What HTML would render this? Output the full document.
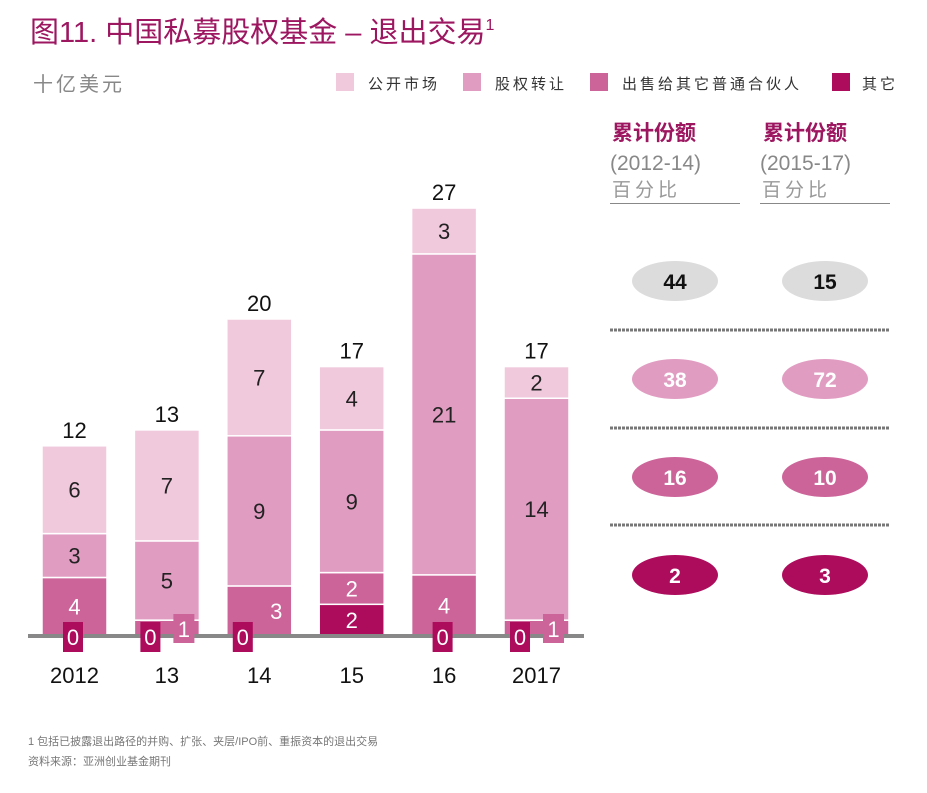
<!DOCTYPE html>
<html><head><meta charset="utf-8">
<style>
body{margin:0;background:#fff;}
svg text{font-family:"Liberation Sans","Noto Sans CJK SC",sans-serif;}
</style></head>
<body>
<svg id="chart" width="927" height="788" viewBox="0 0 927 788" xmlns="http://www.w3.org/2000/svg">
<text x="30" y="42" font-size="29" fill="#9c1660" font-family="Liberation Sans,Noto Sans CJK SC,sans-serif">图11. 中国私募股权基金 – 退出交易<tspan font-size="16" dy="-12">1</tspan></text>
<text x="33" y="91" font-size="20" fill="#888" font-family="Noto Serif CJK SC,serif" letter-spacing="3">十亿美元</text>
<g font-size="15" fill="#333">
<rect x="336" y="73" width="18" height="18" fill="#f0c9dd"/><text x="368" y="89" letter-spacing="3">公开市场</text>
<rect x="463" y="73" width="18" height="18" fill="#e19cc2"/><text x="495" y="89" letter-spacing="3">股权转让</text>
<rect x="590" y="73" width="18" height="18" fill="#cc6499"/><text x="622" y="89" letter-spacing="3">出售给其它普通合伙人</text>
<rect x="832" y="73" width="18" height="18" fill="#ad0b5c"/><text x="862" y="89" letter-spacing="3">其它</text>
</g>
<g id="bars"></g>
<rect x="28" y="634" width="556" height="4" fill="#888"/>
<g id="labels"></g>
<g>
<text x="612" y="140" font-size="21" font-weight="bold" fill="#9c1660" font-family="Noto Serif CJK SC,serif">累计份额</text>
<text x="610" y="170" font-size="21" fill="#888">(2012-14)</text>
<text x="612" y="196" font-size="19" fill="#999" font-family="Noto Serif CJK SC,serif" letter-spacing="4">百分比</text>
<rect x="610" y="203" width="130" height="1" fill="#888"/>
<text x="763" y="140" font-size="21" font-weight="bold" fill="#9c1660" font-family="Noto Serif CJK SC,serif">累计份额</text>
<text x="760" y="170" font-size="21" fill="#888">(2015-17)</text>
<text x="762" y="196" font-size="19" fill="#999" font-family="Noto Serif CJK SC,serif" letter-spacing="4">百分比</text>
<rect x="760" y="203" width="130" height="1" fill="#888"/>
<g id="shares"></g>
</g>
<text x="28" y="745" font-size="11" fill="#777">1 包括已披露退出路径的并购、扩张、夹层/IPO前、重振资本的退出交易</text>
<text x="28" y="765" font-size="11" fill="#777">资料来源：亚洲创业基金期刊</text>
</svg>
<script>
const years=["2012","13","14","15","16","2017"];
const totals=[12,13,20,17,27,17];
const other=[0,0,0,2,0,0];
const gp=[4,1,3,2,4,1];
const transfer=[3,5,9,9,21,14];
const pub=[6,7,7,4,3,2];
const share1=[44,38,16,2];
const share2=[15,72,10,3];
const colors=["#ad0b5c","#cc6499","#e19cc2","#f0c9dd"];
const seriesNames=["other","gp","transfer","public"];
const NS="http://www.w3.org/2000/svg";
const base=636;
const yS=v=>v*15.85;
const xB=i=>42+i*92.4;
const bw=65;
function mk(t,a,p){const e=document.createElementNS(NS,t);for(const k in a)e.setAttribute(k,a[k]);p.appendChild(e);return e;}
const bars=document.getElementById('bars'),labels=document.getElementById('labels');
years.forEach((yr,i)=>{
  const vals=[other[i],gp[i],transfer[i],pub[i]];
  const sum=vals.reduce((a,b)=>a+b,0);
  const norm=totals[i]/sum;
  let y=base;
  const crowded=gp[i]===1||(gp[i]<=3&&other[i]===0&&transfer[i]>=9&&gp[i]===3);
  vals.forEach((v,s)=>{
    const h=yS(v*norm);
    if(v>0){
      const r=mk('rect',{x:xB(i),y:y-h,width:bw,height:h,fill:colors[s],stroke:'#fff','stroke-width':1.5},bars);
      
      
      if(!(s===1&&v===1)){
        const t=mk('text',{x:xB(i)+bw/2+(s===1&&crowded?17:0),y:y-h/2+8,'text-anchor':'middle','font-size':22,fill:s>=2?'#222':'#fff'},labels);
        t.textContent=v;
        
        
      }
    }
    y-=h;
  });
  if(other[i]===0){
    const off=crowded?6:21;
    const b=mk('rect',{x:xB(i)+off,y:622,width:20,height:30,fill:colors[0]},labels);
    
    
    const t=mk('text',{x:xB(i)+off+10,y:645,'text-anchor':'middle','font-size':22,fill:'#fff'},labels);
    t.textContent=other[i];
    
    
  }
  if(gp[i]===1){
    const b=mk('rect',{x:xB(i)+39,y:614,width:21,height:29,fill:colors[1]},labels);
    
    
    const t=mk('text',{x:xB(i)+49.5,y:637,'text-anchor':'middle','font-size':22,fill:'#fff'},labels);
    t.textContent=gp[i];
    
    
  }
  const tt=mk('text',{x:xB(i)+bw/2,y:y-8,'text-anchor':'middle','font-size':22,fill:'#111'},labels);
  tt.textContent=totals[i];
  
  
  const xl=mk('text',{x:xB(i)+bw/2,y:683,'text-anchor':'middle','font-size':22,fill:'#111'},labels);
  xl.textContent=yr;
  
  
});
const sh=document.getElementById('shares');
const ellFill=["#dcdcdc","#e19cc2","#cc6499","#ad0b5c"];
const ellText=["#111","#fff","#fff","#fff"];
[share1,share2].forEach((arr,c)=>{
  arr.forEach((v,r)=>{
    const cx=675+c*150, cy=281+r*98;
    const e=mk('ellipse',{cx:cx,cy:cy,rx:43,ry:20,fill:ellFill[r]},sh);
    
    
    const t=mk('text',{x:cx,y:cy+8,'text-anchor':'middle','font-size':21,'font-weight':'bold',fill:ellText[r]},sh);
    t.textContent=v;
    
    
  });
});
[330,428,525].forEach((y,k)=>{
  const l=mk('line',{x1:610,x2:890,y1:y,y2:y,stroke:'#777','stroke-width':3,'stroke-dasharray':'3 1'},sh);
  
  
});
</script>
</body></html>
